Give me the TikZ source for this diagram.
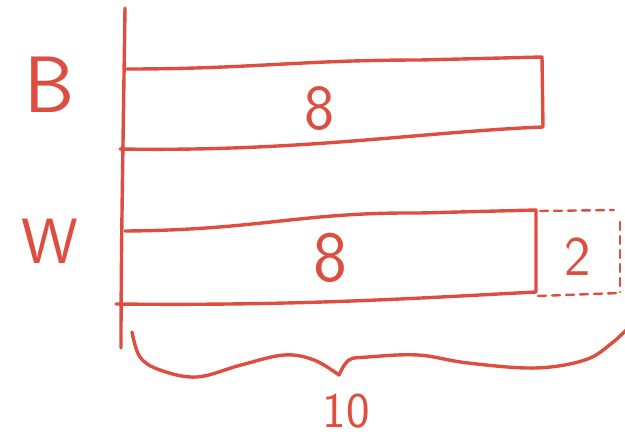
\documentclass[tikz,border=0pt]{standalone}
\usepackage{fontspec}
\definecolor{pen}{RGB}{222,78,64}
\begin{document}
\begin{tikzpicture}[x=1pt,y=-1pt,
  stroke/.style={draw=pen,line width=3.4pt,line cap=round,line join=round},
  dashstroke/.style={draw=pen,line width=2.4pt,dash pattern=on 8pt off 6pt,line cap=round},
  hand/.style={text=pen,inner sep=0pt,font=\sffamily}]
\useasboundingbox (0,0) rectangle (625,437);
% axis
\draw[stroke] (125,8) .. controls (123,150) and (121,250) .. (121,348);
% B bar
\draw[stroke] (127,69) .. controls (250,69) and (300,60) .. (420,60) -- (542,57) -- (543,127)
  .. controls (420,132) and (300,152) .. (120,149);
% W bar
\draw[stroke] (125,231) .. controls (260,230) and (300,212) .. (420,213) -- (536,210) -- (536,292)
  .. controls (420,298) and (300,306) .. (116,304);
% dashed part
\draw[dashstroke] (540,211) -- (614,210);
\draw[dashstroke] (620,222) -- (620,292);
\draw[dashstroke] (538,296) -- (620,293);
% brace
\draw[stroke] plot[smooth,tension=0.6] coordinates {(132,332) (140,357) (160,370) (197,377) (241,365) (284,355) (314,360) (339,375)};
\draw[stroke] plot[smooth,tension=0.6] coordinates {(339,375) (349,360) (368,357) (418,355) (468,363) (535,368) (585,360) (612,343) (630,326)};
% labels
\node[hand,font=\sffamily\fontsize{80}{80}\selectfont] (lb) at (50,85) {B};
\node[hand,font=\sffamily\fontsize{64}{64}\selectfont] (lw) at (50,241) {W};
\node[hand,font=\sffamily\fontsize{64}{64}\selectfont] (e1) at (320,109) {8};
\node[hand,font=\sffamily\fontsize{72}{72}\selectfont] (e2) at (330,258) {8};
\node[hand,font=\sffamily\fontsize{56}{56}\selectfont] (t2) at (578,257) {2};
\node[hand,font=\sffamily\fontsize{50}{50}\selectfont] (ten) at (346,411) {10};
\end{tikzpicture}
\end{document}
